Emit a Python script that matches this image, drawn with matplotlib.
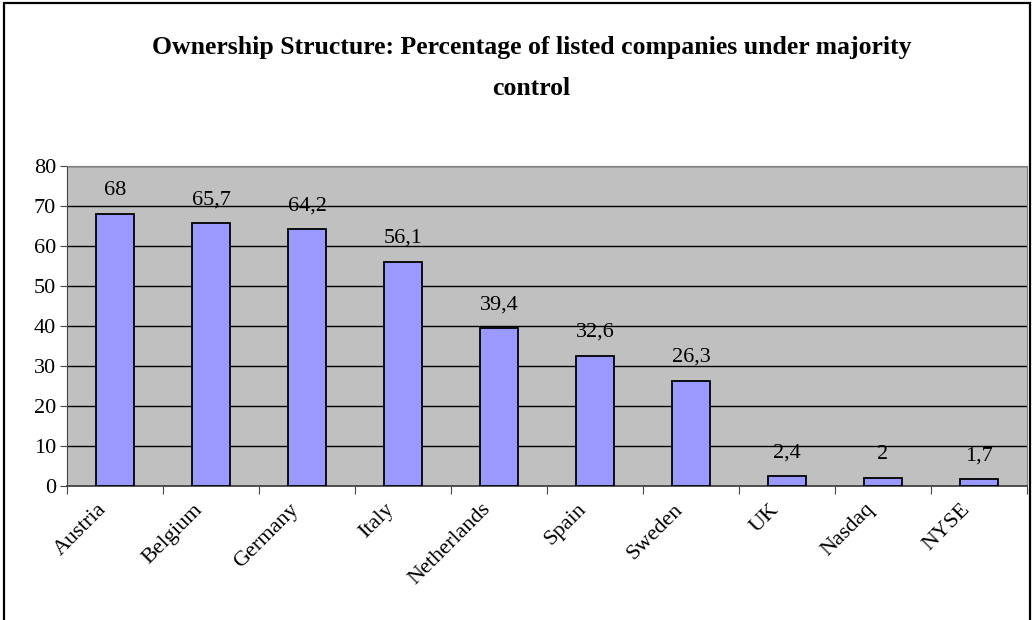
import matplotlib
matplotlib.use("Agg")
import matplotlib.pyplot as plt
from matplotlib.patches import Rectangle

categories = ["Austria", "Belgium", "Germany", "Italy", "Netherlands", "Spain",
              "Sweden", "UK", "Nasdaq", "NYSE"]
values = [68, 65.7, 64.2, 56.1, 39.4, 32.6, 26.3, 2.4, 2, 1.7]
value_labels = ["68", "65,7", "64,2", "56,1", "39,4", "32,6", "26,3", "2,4", "2", "1,7"]
yticks = [0, 10, 20, 30, 40, 50, 60, 70, 80]
title = "Ownership Structure: Percentage of listed companies under majority\ncontrol"

plt.rcParams['font.family'] = ['Liberation Serif', 'DejaVu Serif']

W, H = 1032, 620
fig = plt.figure(figsize=(W / 100, H / 100), dpi=100)
fig.patch.set_facecolor("white")

# outer chart border
fig.add_artist(Rectangle((4 / W, -0.05), (1030 - 4) / W, (H - 3) / H + 0.05,
                         transform=fig.transFigure, fill=False,
                         edgecolor="black", linewidth=1.6))

ax = fig.add_axes([67 / W, (H - 486) / H, (1027 - 67) / W, (486 - 166) / H])
ax.set_facecolor("#C0C0C0")

x = list(range(len(categories)))
ax.bar(x, values, width=0.4, color="#9999FF", edgecolor="black", linewidth=1.3, zorder=3)

ax.set_xlim(-0.5, len(categories) - 0.5)
ax.set_ylim(0, 80)
ax.set_yticks(yticks)
ax.set_yticklabels([str(t) for t in yticks], fontsize=16)
ax.yaxis.grid(True, color="black", linewidth=1.0, zorder=1)
ax.set_axisbelow(True)

ax.set_xticks([i - 0.5 for i in range(len(categories) + 1)], minor=False)
ax.set_xticklabels([])
ax.tick_params(axis="x", direction="out", length=6, color="#444444")
ax.tick_params(axis="y", direction="out", length=5, color="#444444", pad=3)

for i, c in enumerate(categories):
    ax.annotate(c, xy=(i, 0), xycoords="data", xytext=(-13, -10), textcoords="offset points",
                rotation=45, ha="right", va="top", rotation_mode="anchor", fontsize=16)

for i, (v, lab) in enumerate(zip(values, value_labels)):
    ax.annotate(lab, xy=(i, v), xytext=(0, 17), textcoords="offset points",
                ha="center", va="center", fontsize=16)

for s in ["top", "right"]:
    ax.spines[s].set_color("#808080")
ax.spines["left"].set_color("#444444")
ax.spines["bottom"].set_color("#444444")
ax.spines["bottom"].set_linewidth(1.3)

fig.text(0.515, (H - 68) / H, title, ha="center", va="center", fontsize=18.5,
         fontweight="bold", linespacing=1.95)

fig.savefig("out.png", dpi=100)
